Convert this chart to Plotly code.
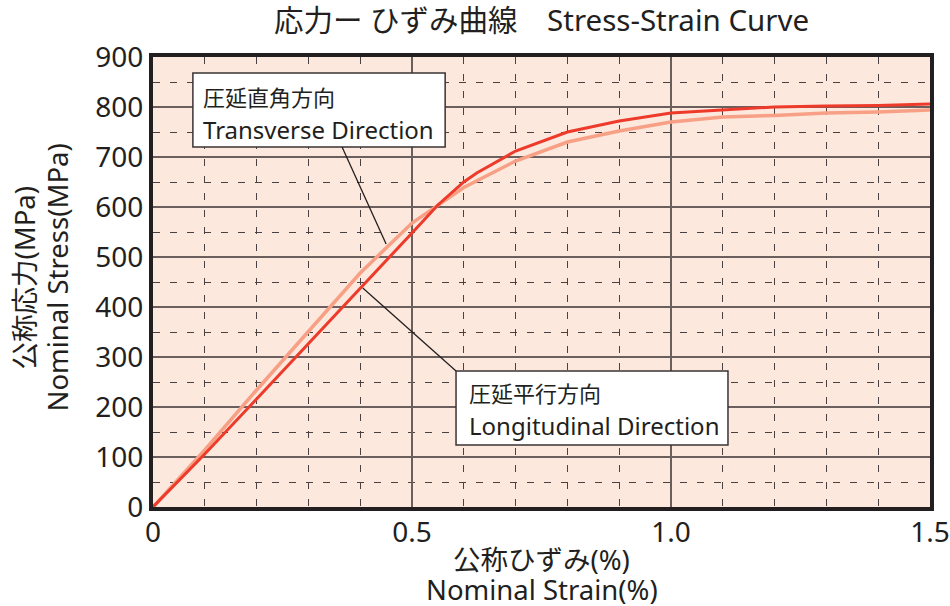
import plotly.graph_objects as go

# Data
strain_long = [0, 0.1, 0.2, 0.3, 0.4, 0.5, 0.55, 0.6, 0.625, 0.7, 0.8, 0.9, 1.0, 1.1, 1.2, 1.3, 1.4, 1.5]
stress_long = [0, 106, 216, 326, 436, 548, 604, 650, 668, 712, 750, 772, 788, 794, 800, 802, 803, 806]

strain_trans = [0, 0.1, 0.2, 0.3, 0.4, 0.5, 0.6, 0.7, 0.8, 0.9, 1.0, 1.1, 1.2, 1.3, 1.4, 1.5]
stress_trans = [0, 114, 234, 350, 468, 568, 639, 692, 730, 752, 770, 780, 783, 788, 790, 794]

x_ticks = [0, 0.5, 1.0, 1.5]
x_tick_labels = ["0", "0.5", "1.0", "1.5"]
y_ticks = [0, 100, 200, 300, 400, 500, 600, 700, 800, 900]

label_trans = ["圧延直角方向", "Transverse Direction"]
label_long = ["圧延平行方向", "Longitudinal Direction"]

FONT = "Noto Sans, Noto Sans CJK JP"
TXT = "#231f20"
RED = "#ee3a2a"
LIGHT = "#f8a085"

fig = go.Figure()
fig.add_trace(go.Scatter(x=strain_trans, y=stress_trans, mode="lines",
                         line=dict(color=LIGHT, width=3.5), name="Transverse", showlegend=False))
fig.add_trace(go.Scatter(x=strain_long, y=stress_long, mode="lines",
                         line=dict(color=RED, width=3), name="Longitudinal", showlegend=False))

grid_major = "#6a5f5c"
grid_minor = "#4a4242"

fig.update_xaxes(range=[0, 1.5], tickvals=x_ticks, ticktext=x_tick_labels,
                 showgrid=True, gridcolor=grid_major, gridwidth=1.5,
                 minor=dict(dtick=0.1, showgrid=True, gridcolor=grid_minor, griddash="7px,10px", gridwidth=1.4),
                 showline=True, linecolor=TXT, linewidth=4, mirror=True,
                 zeroline=False, ticks="", ticklabelstandoff=-3, automargin=False,
                 tickfont=dict(family=FONT, size=28, color=TXT))
fig.update_yaxes(range=[0, 900], tickvals=y_ticks,
                 showgrid=True, gridcolor=grid_major, gridwidth=1.5,
                 minor=dict(dtick=50, showgrid=True, gridcolor=grid_minor, griddash="7px,10px", gridwidth=1.4),
                 showline=True, linecolor=TXT, linewidth=4, mirror=True,
                 zeroline=False, ticks="", ticklabelstandoff=0, automargin=False,
                 tickfont=dict(family=FONT, size=28, color=TXT))

shapes = []
annotations = []

def callout(box, line, texts, text_x, text_ys, sizes):
    x0, x1, y0, y1 = box
    shapes.append(dict(type="rect", xref="x", yref="y", x0=x0, x1=x1, y0=y0, y1=y1,
                       fillcolor="white", line=dict(color="#3a3333", width=1.5), layer="above"))
    (lx0, ly0), (lx1, ly1) = line
    shapes.append(dict(type="line", xref="x", yref="y", x0=lx0, y0=ly0, x1=lx1, y1=ly1,
                       line=dict(color=TXT, width=1.3), layer="above"))
    for t, ty, sz in zip(texts, text_ys, sizes):
        annotations.append(dict(x=text_x, y=ty, xref="x", yref="y", text=t, showarrow=False,
                                xanchor="left", yanchor="middle",
                                font=dict(family=FONT, size=sz, color=TXT)))

callout((0.077, 0.564, 720, 868), ((0.365, 720), (0.450, 526)), label_trans, 0.092, [820, 756], [22, 24])
callout((0.585, 1.110, 124, 272), ((0.405, 438), (0.585, 272)), label_long, 0.606, [228, 164], [22, 24])

# Axis titles (pixel positions converted to paper fractions of the 777x450 plot area)
PW, PH = 777.0, 450.0
annotations.append(dict(x=0.5, y=-(559 - 507) / PH, xref="paper", yref="paper", text="公称ひずみ(%)",
                        showarrow=False, xanchor="center", yanchor="middle",
                        font=dict(family=FONT, size=27.5, color=TXT)))
annotations.append(dict(x=0.5, y=-(589 - 507) / PH, xref="paper", yref="paper", text="Nominal Strain(%)",
                        showarrow=False, xanchor="center", yanchor="middle",
                        font=dict(family=FONT, size=27.5, color=TXT)))
annotations.append(dict(x=-(153 - 24) / PW, y=0.51, xref="paper", yref="paper", text="公称応力(MPa)",
                        showarrow=False, xanchor="center", yanchor="middle", textangle=-90,
                        font=dict(family=FONT, size=27.5, color=TXT)))
annotations.append(dict(x=-(153 - 57) / PW, y=0.51, xref="paper", yref="paper", text="Nominal Stress(MPa)",
                        showarrow=False, xanchor="center", yanchor="middle", textangle=-90,
                        font=dict(family=FONT, size=27.5, color=TXT)))

fig.update_layout(
    width=950, height=606,
    margin=dict(l=153, r=20, t=57, b=99),
    paper_bgcolor="white", plot_bgcolor="#fce8dd",
    title=dict(text="応力ー ひずみ曲線　Stress-Strain Curve", x=0.57, xanchor="center",
               y=1 - 21 / 606, yanchor="middle",
               font=dict(family=FONT, size=29.5, color=TXT)),
    shapes=shapes,
    annotations=annotations,
    showlegend=False,
)

fig.write_html("out.html", config={"displayModeBar": False},
               post_script="document.body.style.margin='0';document.body.style.padding='0';")
